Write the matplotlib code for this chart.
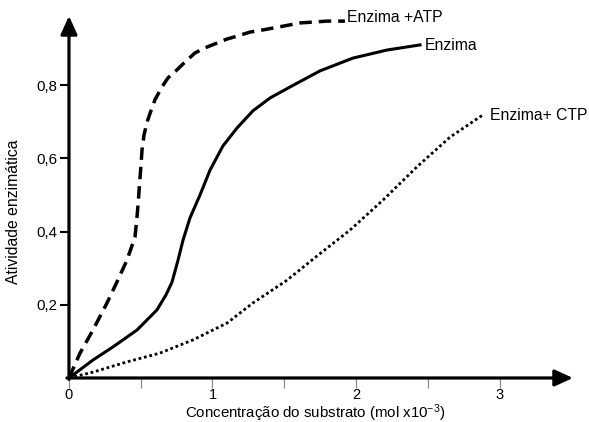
import matplotlib
matplotlib.use("Agg")
from matplotlib import pyplot as plt

plt.rcParams["font.family"] = ["Liberation Sans", "DejaVu Sans"]
plt.rcParams["mathtext.fontset"] = "custom"
plt.rcParams["mathtext.rm"] = "Liberation Sans"
plt.rcParams["mathtext.it"] = "Liberation Sans"

# curves (substrate, activity)
atp_x = [0, 0.077, 0.167, 0.265, 0.341, 0.404, 0.46, 0.474, 0.484, 0.491, 0.502,
         0.509, 0.523, 0.544, 0.571, 0.599, 0.648, 0.690, 0.753, 0.808, 0.878,
         0.948, 1.031, 1.101, 1.171, 1.261, 1.352, 1.449, 1.610, 1.798, 1.923]
atp_y = [0, 0.068, 0.131, 0.205, 0.268, 0.322, 0.385, 0.440, 0.486, 0.527, 0.582,
         0.623, 0.664, 0.699, 0.730, 0.760, 0.795, 0.820, 0.842, 0.863, 0.888,
         0.902, 0.915, 0.926, 0.934, 0.945, 0.951, 0.958, 0.970, 0.975, 0.975]

enz_x = [0, 0.167, 0.307, 0.474, 0.613, 0.676, 0.718, 0.76, 0.795, 0.843, 0.913,
         0.983, 1.073, 1.171, 1.282, 1.401, 1.54, 1.749, 1.979, 2.216, 2.446]
enz_y = [0, 0.049, 0.085, 0.131, 0.186, 0.227, 0.262, 0.322, 0.377, 0.437, 0.500,
         0.568, 0.634, 0.683, 0.730, 0.765, 0.795, 0.839, 0.874, 0.896, 0.910]

ctp_x = [0, 0.167, 0.404, 0.634, 0.864, 1.101, 1.282, 1.515, 1.75, 1.958, 2.188,
         2.425, 2.655, 2.885]
ctp_y = [0, 0.016, 0.044, 0.068, 0.104, 0.150, 0.205, 0.266, 0.340, 0.404, 0.486,
         0.577, 0.658, 0.719]

x_ticks = [0, 0.5, 1, 1.5, 2, 2.5, 3]
x_labels = ["0", "", "1", "", "2", "", "3"]
y_ticks = [0.2, 0.4, 0.6, 0.8]
y_labels = ["0,2", "0,4", "0,6", "0,8"]

fig = plt.figure(figsize=(5.89, 4.22), dpi=100)
ax = fig.add_axes([0.1171, 0.1043, 0.8557, 0.8578])
ax.set_xlim(0, 3.512)
ax.set_ylim(0, 0.989)
for s in ax.spines.values():
    s.set_visible(False)

ax.plot(atp_x, atp_y, color="k", lw=2.5, dashes=(3.6, 2.0), clip_on=False,
        dash_joinstyle="round")
ax.plot(enz_x, enz_y, color="k", lw=2.2, clip_on=False, solid_joinstyle="round")
ax.plot(ctp_x, ctp_y, color="k", lw=2.0, dashes=(1, 1), clip_on=False)

ax.text(1.937, 0.984, "Enzima +ATP", fontsize=11.3, ha="left", va="center")
ax.text(2.481, 0.908, "Enzima", fontsize=11.3, ha="left", va="center")
ax.text(2.934, 0.717, "Enzima+ CTP", fontsize=11.3, ha="left", va="center")

# axes as arrows
arrow = dict(arrowstyle="-|>,head_length=1.1,head_width=0.5", lw=2.3, color="k",
             shrinkA=0, shrinkB=0, mutation_scale=10)
ax.annotate("", xy=(1, 0), xytext=(-0.004, 0), xycoords="axes fraction",
            textcoords="axes fraction", arrowprops=arrow, annotation_clip=False)
ax.annotate("", xy=(0, 1), xytext=(0, -0.004), xycoords="axes fraction",
            textcoords="axes fraction", arrowprops=arrow, annotation_clip=False)

ax.set_xticks(x_ticks)
ax.set_xticklabels(x_labels)
ax.set_yticks(y_ticks)
ax.set_yticklabels(y_labels)
ax.tick_params(axis="x", direction="out", length=7, width=0.9, color="#8a8a8a",
               labelsize=10.5, pad=0)
ax.tick_params(axis="y", direction="out", length=6.5, width=1.5, color="k",
               labelsize=10.8, pad=2)

ax.text(0.489, -0.1092, "Concentração do substrato (mol x10$^{-3}$)", fontsize=10.8,
        ha="center", va="baseline", transform=ax.transAxes)
ax.text(-0.111, 0.459, "Atividade enzimática", fontsize=11.3, rotation=90,
        ha="center", va="center", transform=ax.transAxes)

fig.savefig("out.png", dpi=100)
